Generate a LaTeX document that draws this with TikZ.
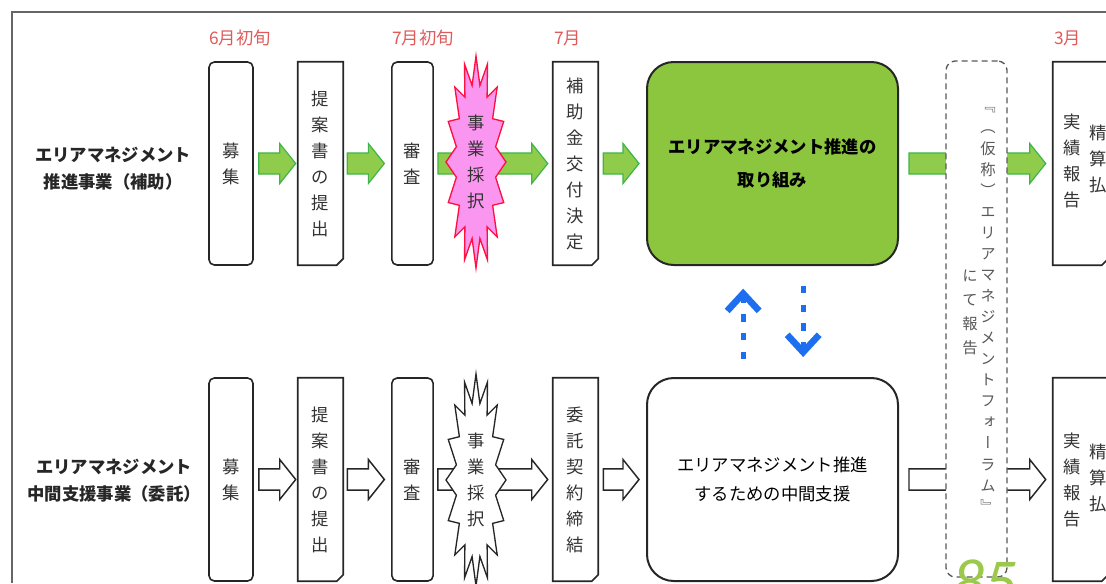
\documentclass[tikz,border=0pt]{standalone}
\usepackage{fontspec}
\setmainfont{Noto Sans CJK JP}
\newfontfamily\vjp[RawFeature=+vert]{Noto Sans CJK JP}
\newfontfamily\numfont{Carlito}
\usetikzlibrary{calc,arrows.meta}
\definecolor{monthred}{HTML}{E05A5A}
\definecolor{gfill}{HTML}{8CC63F}
\definecolor{afill}{HTML}{8FCC4C}
\definecolor{aline}{HTML}{3DB54A}
\definecolor{bluearr}{HTML}{1E6EF0}
\definecolor{starfill}{HTML}{FA96F0}
\definecolor{starline}{HTML}{FF1040}
\definecolor{framegray}{HTML}{666666}
\definecolor{numgreen}{HTML}{9BC94B}
\newcommand\vfont{\fontsize{13pt}{19.5pt}\selectfont}
\newcommand\blockarrow[3]{%
  \draw[#1] let \p1=#2, \p2=#3 in
    (\x1,\y1+7.9pt) -- (\x2-12pt,\y1+7.9pt) -- (\x2-12pt,\y1+15pt) -- (\x2,\y1)
    -- (\x2-12pt,\y1-15pt) -- (\x2-12pt,\y1-7.9pt) -- (\x1,\y1-7.9pt) -- cycle;}
\newcommand\docoutline[1]{%
  \draw[boxline] (#1.south west) -- (#1.north west) -- (#1.north east)
    -- ([yshift=5pt]#1.south east) -- ([xshift=-5pt]#1.south east) -- cycle;
  \fill[black!80] ([yshift=5pt]#1.south east) -- ([xshift=-5pt]#1.south east)
    -- ([xshift=-3.5pt,yshift=1.5pt]#1.south east) -- cycle;}
\newcommand\starpath[2]{%
  \begin{scope}[shift={(#2)}]
  \draw[#1] plot[samples at={0,...,31}, variable=\i]
    ({ifthenelse(mod(\i,2)==0,30,20)*cos(90+\i*11.25)},{ifthenelse(mod(\i,2)==0,106,78)*sin(90+\i*11.25)}) -- cycle;
  \end{scope}}
\begin{document}
\begin{tikzpicture}[x=0.75pt,y=-0.75pt,
  boxline/.style={draw=black!85,line width=1.2pt},
  rbox/.style={boxline,fill=white,rounded corners=4pt,minimum width=33pt,minimum height=152.25pt,inner sep=0pt,align=center,font=\vfont,text=black!80},
  dbox/.style={fill=white,minimum width=33.75pt,minimum height=152.25pt,inner sep=0pt,align=center,font=\vfont,text=black!80},
  vtext/.style={align=center,font=\vfont,text=black!80,inner sep=0pt},
  bigbox/.style={draw=black!85,line width=1.5pt,rounded corners=20pt,minimum width=188.25pt,minimum height=152.25pt,align=center},
  garrow/.style={fill=afill,draw=aline,line width=0.9pt},
  warrow/.style={fill=white,draw=black!85,line width=1.1pt},
  month/.style={anchor=west,text=monthred,font=\fontsize{13pt}{15pt}\selectfont,inner sep=0pt},
  rowlabel/.style={align=center,text=black!85,font=\bfseries\fontsize{13pt}{20.5pt}\selectfont},
  bluedot/.style={draw=bluearr,line width=3.75pt,dash pattern=on 5.5pt off 8.5pt,-{Straight Barb[length=13pt,width=24pt,line width=5pt]}},
  dashbox/.style={draw=black!65,line width=1pt,dash pattern=on 4.5pt off 3pt,rounded corners=7pt,fill=white,minimum width=45.75pt,minimum height=387pt,inner sep=0pt},
  starA/.style={fill=starfill,draw=starline,line width=1pt},
  starB/.style={fill=white,draw=black!85,line width=1pt}]
\useasboundingbox (0,0) rectangle (1106,583);
\clip (0,0) rectangle (1106,583);
\draw[framegray,line width=1.1pt] (12,583) -- (12,12) -- (1106,12);

% month labels
\node[month] (m1) at (209,38) {6月初旬};
\node[month] (m2) at (392,38) {7月初旬};
\node[month] (m3) at (554,38) {7月};
\node[month] (m4) at (1054,38) {3月};

% row labels
\node[rowlabel] (lab1) at (113,168.5) {エリアマネジメント\\推進事業（補助）};
\node[rowlabel] (lab2) at (114,481) {エリアマネジメント\\中間支援事業（委託）};

% row 1 boxes
\node[rbox] (r1a) at (231,163.5) {募\\集};
\node[dbox] (r1b) at (320.5,163.5) {提\\案\\書\\の\\提\\出};
\node[rbox,minimum width=31pt] (r1c) at (412.5,163.5) {審\\査};
\node[dbox] (r1d) at (575.5,163.5) {補\\助\\金\\交\\付\\決\\定};
\node[bigbox,fill=gfill,font=\bfseries\fontsize{13pt}{25pt}\selectfont] (r1e) at (772.5,163.5) {エリアマネジメント推進の\\取り組み};
\node[dbox,minimum width=41.25pt] (r1f) at (1080.5,163.5) {};

% row 2 boxes
\node[rbox] (r2a) at (231,479.5) {募\\集};
\node[dbox] (r2b) at (320.5,479.5) {提\\案\\書\\の\\提\\出};
\node[rbox,minimum width=31pt] (r2c) at (412.5,479.5) {審\\査};
\node[dbox] (r2d) at (575.5,479.5) {委\\託\\契\\約\\締\\結};
\node[bigbox,fill=white,font=\fontsize{13pt}{22pt}\selectfont] (r2e) at (772.5,479.5) {エリアマネジメント推進\\するための中間支援};
\node[dbox,minimum width=41.25pt] (r2f) at (1080.5,479.5) {};

\docoutline{r1b}\docoutline{r1d}\docoutline{r1f}
\docoutline{r2b}\docoutline{r2d}\docoutline{r2f}

% row 1 arrows
\blockarrow{garrow}{([xshift=3.75pt]r1a.east)}{([xshift=-1.5pt]r1b.west)}
\blockarrow{garrow}{([xshift=3pt]r1b.east)}{([xshift=-5pt]r1c.west)}
\blockarrow{garrow}{([xshift=3pt]r1c.east)}{([xshift=-3.75pt]r1d.west)}
\blockarrow{garrow}{([xshift=3.75pt]r1d.east)}{([xshift=-5.25pt]r1e.west)}
\blockarrow{garrow}{([xshift=7.5pt]r1e.east)}{([xshift=-5.25pt]r1f.west)}
% row 2 arrows
\blockarrow{warrow}{([xshift=3.75pt]r2a.east)}{([xshift=-1.5pt]r2b.west)}
\blockarrow{warrow}{([xshift=3pt]r2b.east)}{([xshift=-5pt]r2c.west)}
\blockarrow{warrow}{([xshift=3pt]r2c.east)}{([xshift=-3.75pt]r2d.west)}
\blockarrow{warrow}{([xshift=3.75pt]r2d.east)}{([xshift=-5.25pt]r2e.west)}
\blockarrow{warrow}{([xshift=7.5pt]r2e.east)}{([xshift=-5.25pt]r2f.west)}

% starbursts
\coordinate (s1c) at (476,162);
\coordinate (s2c) at (476,480);
\starpath{starA}{s1c}
\starpath{starB}{s2c}
\node[vtext] (s1) at (s1c) {事\\業\\採\\択};
\node[vtext] (s2) at (s2c) {事\\業\\採\\択};

% last box texts
\node[vtext] (f1a) at (1072,161) {実\\績\\報\\告};
\node[vtext] (f1b) at (1098,159) {精\\算\\払};
\node[vtext] (f2a) at (1072,480) {実\\績\\報\\告};
\node[vtext] (f2b) at (1098,478) {精\\算\\払};

% dashed forum box
\node[dashbox] (db) at (976.5,319) {};
\node[align=center,inner sep=0pt,text=black!65,font=\vjp\fontsize{11.5pt}{15.8pt}\selectfont] (dt1) at (988,310)
  {『\\（\\仮\\称\\）\\エ\\リ\\ア\\マ\\ネ\\ジ\\メ\\ン\\ト\\フ\\ォ\\ー\\ラ\\ム\\』};
\node[align=center,inner sep=0pt,text=black!65,font=\vjp\fontsize{11.5pt}{18pt}\selectfont] (dt2) at (970,312) {に\\て\\報\\告};

% blue dotted arrows
\draw[bluedot,shorten <=13.5pt,shorten >=17pt] ([xshift=-22pt]r2e.north) -- ([xshift=-22pt]r1e.south);
\draw[bluedot,shorten <=15pt,shorten >=15pt] ([xshift=23pt]r1e.south) -- ([xshift=23pt]r2e.north);

% page number
\node[anchor=base west,inner sep=0pt,text=numgreen,font=\numfont\itshape\fontsize{48pt}{48pt}\selectfont] (pg) at (952,603) {85};
\end{tikzpicture}
\end{document}
